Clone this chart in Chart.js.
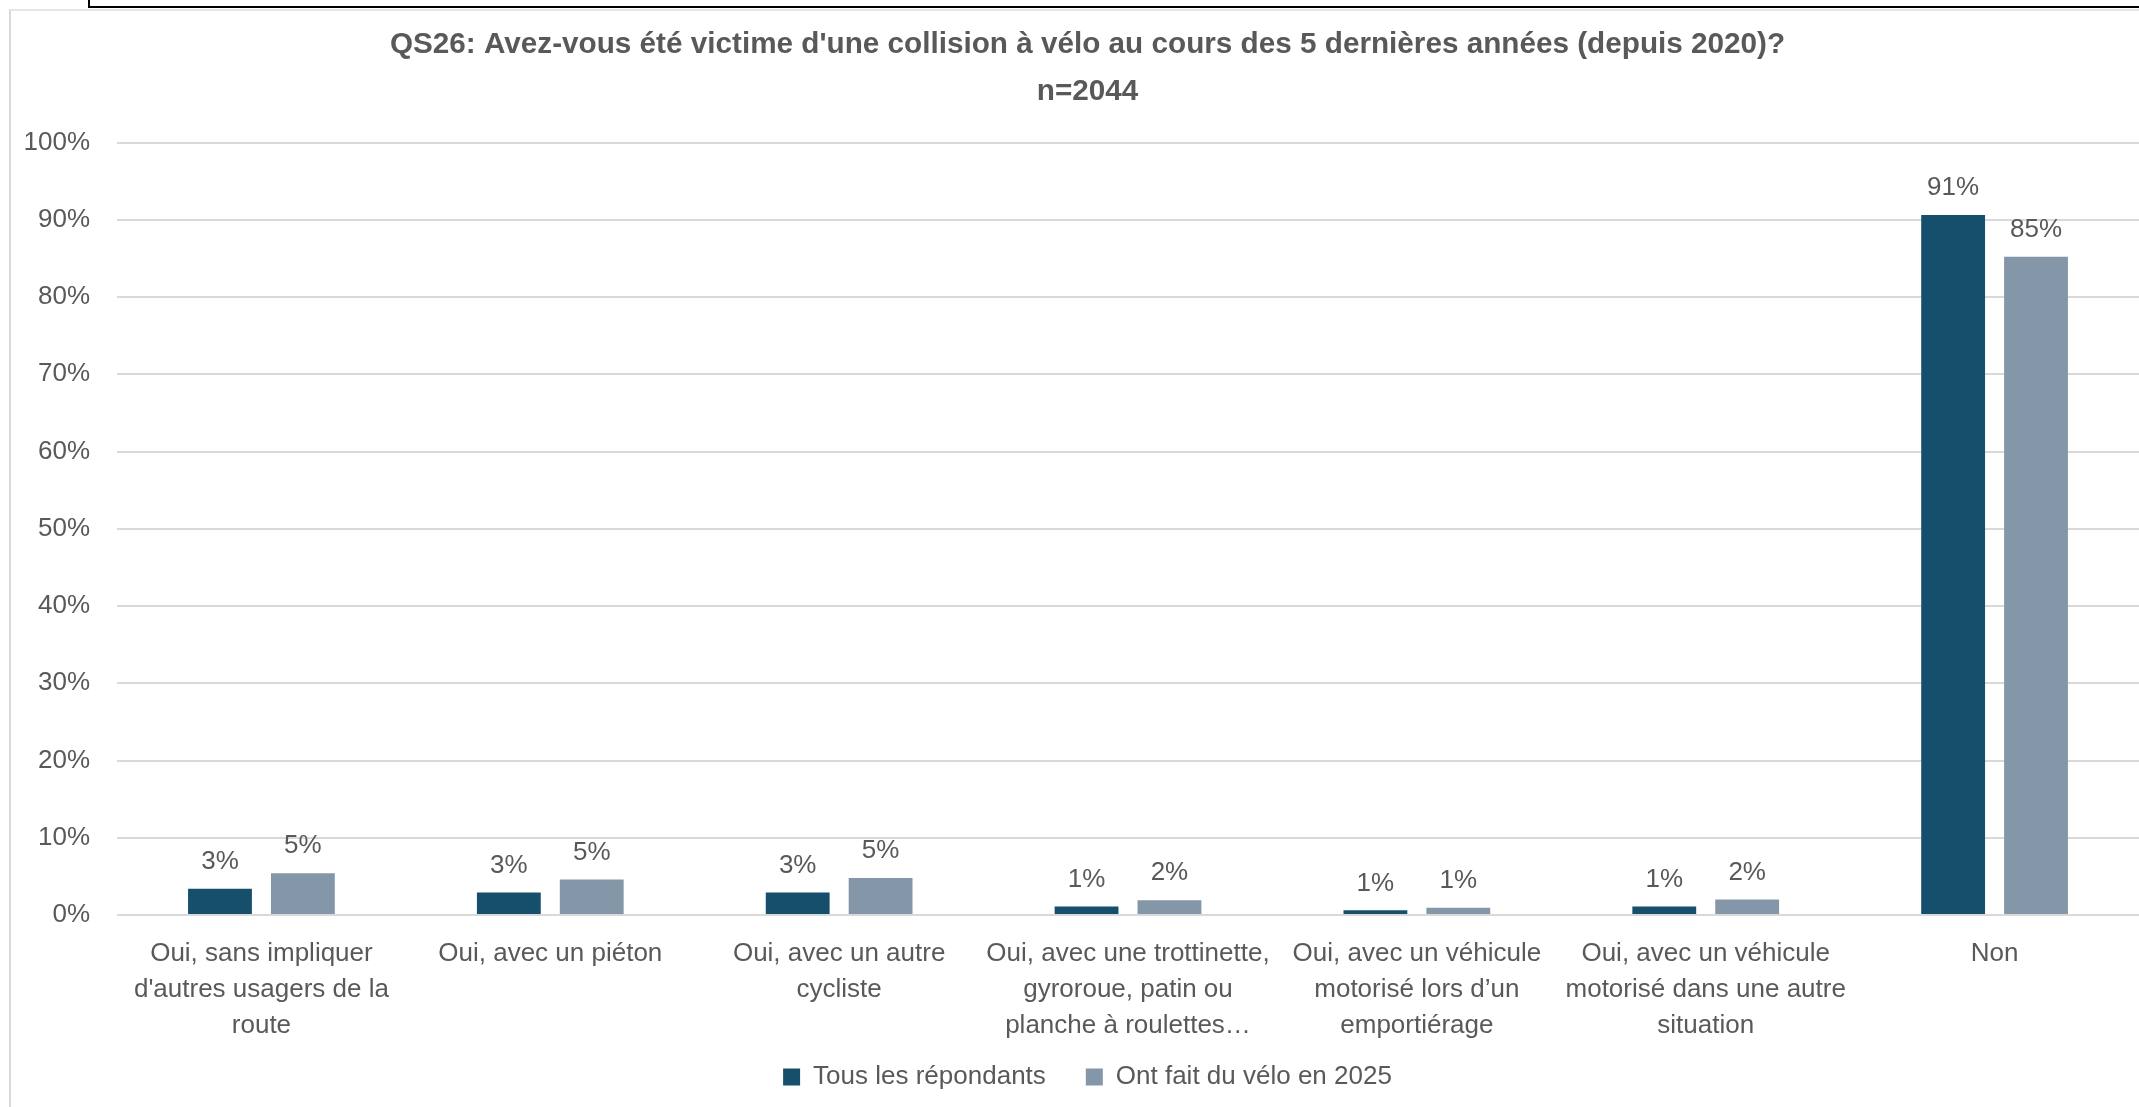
<!DOCTYPE html>
<html lang="fr">
<head>
    <meta charset="UTF-8">
    <title>QS26 - Collisions à vélo</title>
    <script src="https://cdn.jsdelivr.net/npm/chart.js"></script>
    <style>
        html, body { margin: 0; padding: 0; background: #fff; overflow: hidden; }
        body { width: 2139px; height: 1107px; position: relative; }
        /* bottom of the framed box cut off at the top of the screenshot */
        .topbox { position: absolute; left: 88px; top: -10px; width: 2100px; height: 16px;
                  border-left: 2px solid #000; border-bottom: 2px solid #000; }
        .chartbox { position: absolute; left: 9px; top: 9px; width: 2200px; height: 1200px;
                    border-left: 2px solid #d9d9d9; border-top: 2px solid #e6e6e6; }
        #chartWrap { position: absolute; left: 8px; top: 9px; width: 2158px; height: 1098px; }
    </style>
</head>
<body>
    <div class="topbox"></div>
    <div class="chartbox"></div>
    <div id="chartWrap"><canvas id="collisionChart"></canvas></div>

    <script>
        // categories (x axis, multi-line labels)
        const categories = [
            ['Oui, sans impliquer', "d'autres usagers de la", 'route'],
            ['Oui, avec un piéton'],
            ['Oui, avec un autre', 'cycliste'],
            ['Oui, avec une trottinette,', 'gyroroue, patin ou', 'planche à roulettes…'],
            ['Oui, avec un véhicule', 'motorisé lors d’un', 'emportiérage'],
            ['Oui, avec un véhicule', 'motorisé dans une autre', 'situation'],
            ['Non']
        ];
        // % of respondents
        const tousLesRepondants = [3.4, 2.9, 2.9, 1.1, 0.6, 1.1, 90.6];
        const ontFaitDuVelo = [5.4, 4.6, 4.8, 1.9, 0.95, 2.0, 85.2];
        const yTicks = [0, 10, 20, 30, 40, 50, 60, 70, 80, 90, 100];

        const textGrey = '#595959';
        const fontFamily = "'Liberation Sans', Arial, sans-serif";

        // value labels above each bar
        const barLabels = {
            id: 'barLabels',
            afterDatasetsDraw(chart) {
                const ctx = chart.ctx;
                ctx.save();
                ctx.font = '26px ' + fontFamily;
                ctx.fillStyle = textGrey;
                ctx.textAlign = 'center';
                ctx.textBaseline = 'middle';
                chart.data.datasets.forEach((ds, i) => {
                    chart.getDatasetMeta(i).data.forEach((bar, j) => {
                        ctx.fillText(Math.round(ds.data[j]) + '%', bar.x, bar.y - 27);
                    });
                });
                ctx.restore();
            }
        };

        // title and legend sit a little right of the plot centre in the original;
        // x labels are allowed to run into the legend's padding
        const nudgeBlocks = {
            id: 'nudgeBlocks',
            afterLayout(chart) {
                [chart.titleBlock, chart.legend].forEach(b => {
                    if (b) { b.left += 14; b.right += 14; }
                });
                chart.scales.x._computeLabelArea = () => undefined;
            }
        };

        new Chart(document.getElementById('collisionChart'), {
            type: 'bar',
            data: {
                labels: categories,
                datasets: [{
                    label: 'Tous les répondants',
                    data: tousLesRepondants,
                    backgroundColor: '#154f6b'
                }, {
                    label: 'Ont fait du vélo en 2025',
                    data: ontFaitDuVelo,
                    backgroundColor: '#8497a9'
                }]
            },
            options: {
                responsive: true,
                maintainAspectRatio: false,
                animation: false,
                datasets: { bar: { categoryPercentage: 0.574, barPercentage: 0.77 } },
                layout: { padding: { left: 0, right: 27, top: 0, bottom: 7 } },
                plugins: {
                    title: {
                        display: true,
                        text: ["QS26: Avez-vous été victime d'une collision à vélo au cours des 5 dernières années (depuis 2020)?", 'n=2044'],
                        color: textGrey,
                        font: { family: fontFamily, size: 29.7, weight: 'bold', lineHeight: '47px' },
                        padding: { top: 12.5, bottom: 27 }
                    },
                    legend: {
                        position: 'bottom',
                        labels: {
                            color: textGrey,
                            font: { family: fontFamily, size: 26 },
                            boxWidth: 17,
                            boxHeight: 17,
                            padding: 40
                        }
                    },
                    tooltip: { enabled: false }
                },
                scales: {
                    x: {
                        afterFit(scale) { scale.height = 109; },
                        grid: { display: false },
                        border: { display: false },
                        ticks: {
                            color: textGrey,
                            font: { family: fontFamily, size: 26, lineHeight: '36px' },
                            padding: 13,
                            maxRotation: 0,
                            minRotation: 0,
                            autoSkip: false
                        }
                    },
                    y: {
                        min: 0,
                        max: 100,
                        afterFit(scale) { scale.width = 109; },
                        afterBuildTicks(scale) { scale.ticks = yTicks.map(v => ({ value: v })); },
                        grid: { color: '#d9d9d9', lineWidth: 2, drawTicks: false },
                        border: { display: false },
                        ticks: {
                            color: textGrey,
                            font: { family: fontFamily, size: 26 },
                            padding: 27,
                            callback: v => v + '%'
                        }
                    }
                }
            },
            plugins: [barLabels, nudgeBlocks]
        });
    </script>
</body>
</html>
